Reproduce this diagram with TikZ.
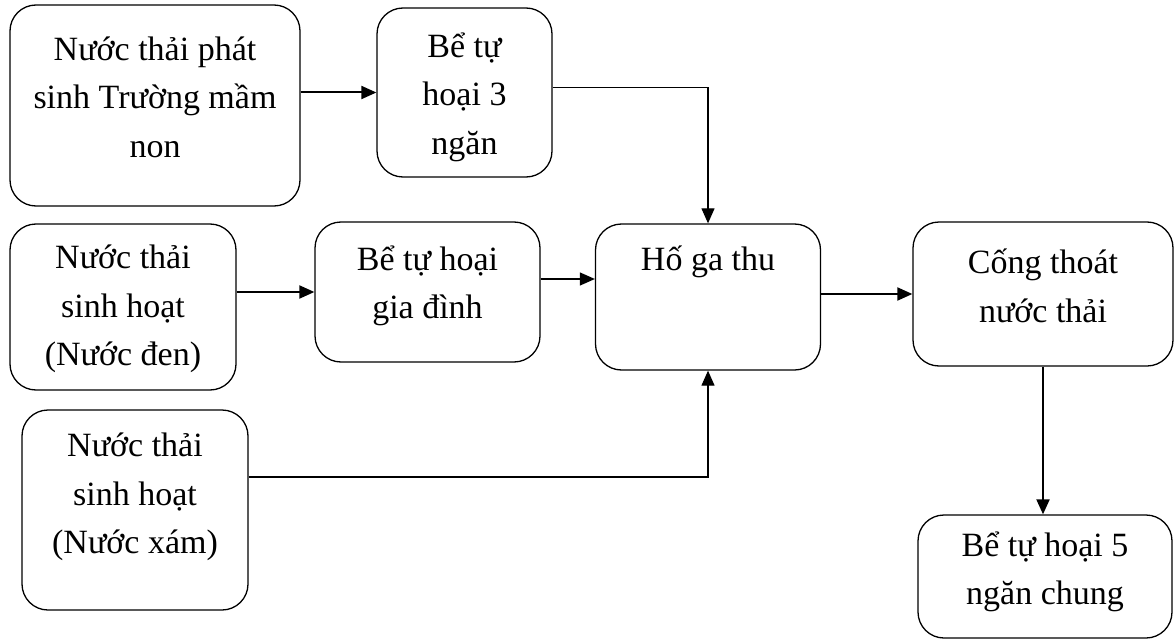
\documentclass[tikz,border=0pt]{standalone}
\usepackage{fontspec}
\setmainfont{Liberation Serif}
\usetikzlibrary{arrows.meta,calc}
\begin{document}
\begin{tikzpicture}[x=1pt,y=-1pt,
  box/.style={draw=black,line width=1.3pt,rounded corners=26pt,inner sep=0pt},
  txt/.style={align=center,inner sep=0pt,font=\fontsize{34}{48.5}\selectfont},
  arr/.style={line width=2pt,-{Triangle[length=15pt,width=13pt]}},
  tarr/.style={line width=1.2pt,-{Triangle[length=15pt,width=13pt]}}]
\useasboundingbox (0,0) rectangle (1174,639);
% boxes
\node[box,minimum width=290pt,minimum height=201pt] (b1) at (155,105.5) {};
\node[box,minimum width=175pt,minimum height=169pt] (b2) at (464.5,92.5) {};
\node[box,minimum width=226pt,minimum height=166pt] (b3) at (123,307) {};
\node[box,minimum width=225pt,minimum height=140pt] (b4) at (427.5,292) {};
\node[box,minimum width=225pt,minimum height=146pt] (b5) at (708,297) {};
\node[box,minimum width=260pt,minimum height=144pt] (b6) at (1043,294) {};
\node[box,minimum width=226pt,minimum height=200pt] (b7) at (135,510) {};
\node[box,minimum width=254pt,minimum height=123pt] (b8) at (1045,576.5) {};
% texts
\node[txt] (t1) at (155,97) {Nước thải phát\\sinh Trường mầm\\non};
\node[txt] (t2) at (464.5,97) {Bể tự\\hoại 3\\ngăn};
\node[txt] (t3) at (123,309) {Nước thải\\sinh hoạt\\(Nước đen)};
\node[txt] (t4) at (427.5,286) {Bể tự hoại\\gia đình};
\node[txt] (t5) at (708,262) {Hố ga thu};
\node[txt] (t6) at (1043,286) {Cống thoát\\nước thải};
\node[txt] (t7) at (135,497) {Nước thải\\sinh hoạt\\(Nước xám)};
\node[txt] (t8) at (1045,572) {Bể tự hoại 5\\ngăn chung};
% connectors
\draw[arr] (b1.east |- b2.west) -- (b2.west);
\draw[tarr] ($(b2.east)+(0,-5)$) -| (b5.north);
\draw[arr] (b3.east |- b4.west) -- (b4.west);
\draw[tarr] ($(b4.east)+(0,-13)$) -- ($(b5.west)+(0,-18)$);
\draw[arr] (b5.east |- b6.west) -- (b6.west);
\draw[tarr] ($(b7.east)+(0,-33)$) -| (b5.south);
\draw[arr] (b6.south) -- (b6.south |- b8.north);
\end{tikzpicture}
\end{document}
